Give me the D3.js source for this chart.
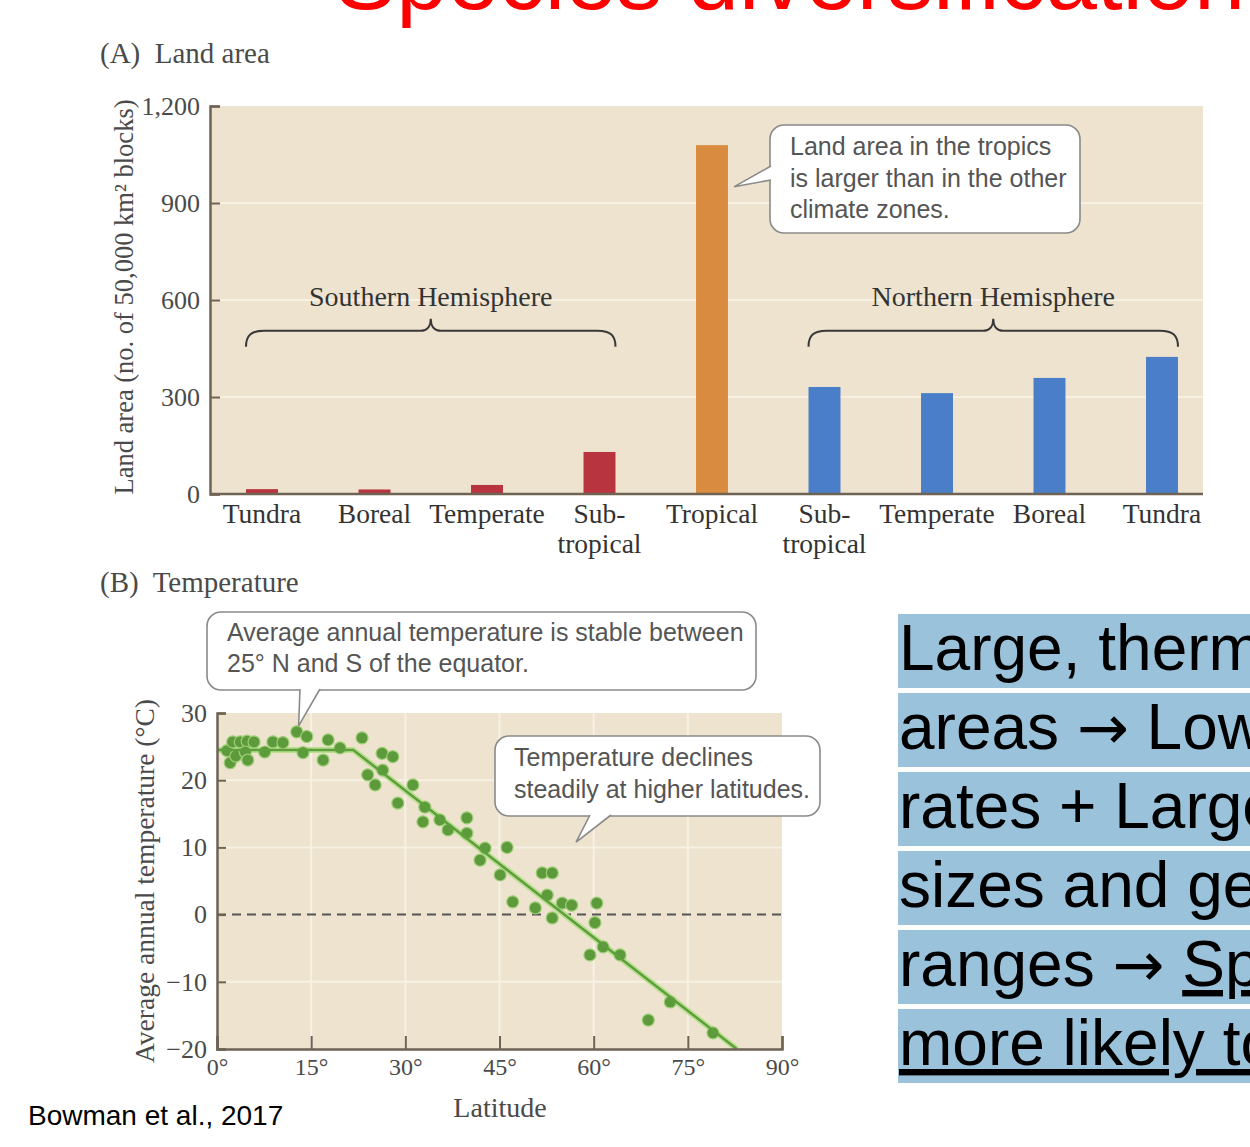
<!DOCTYPE html>
<html><head><meta charset="utf-8">
<script src="https://cdn.jsdelivr.net/npm/d3@7"></script>
<style>body{margin:0;background:#fff;overflow:hidden} svg{display:block}</style>
</head><body><svg id="c" width="1250" height="1147"></svg>
<script>
// ---------- Panel A data ----------
const zoneIds = ["sTundra","sBoreal","sTemperate","sSub","tropical","nSub","nTemperate","nBoreal","nTundra"];
const zoneLabels = [["Tundra"],["Boreal"],["Temperate"],["Sub-","tropical"],["Tropical"],["Sub-","tropical"],["Temperate"],["Boreal"],["Tundra"]];
const landArea = [15, 14, 28, 130, 1079, 331, 312, 359, 424];
const hemisphere = ["south","south","south","south","tropic","north","north","north","north"];
const landTicks = [0, 300, 600, 900, 1200];

// ---------- Panel B data ----------
const latitude = [1.6,2.1,2.5,3.0,3.7,4.8,5.9,4.5,4.9,7.6,8.9,10.5,12.7,14.3,13.7,16.9,17.7,19.6,23.1,24.0,25.2,26.3,26.4,28.0,28.8,31.2,33.1,32.8,35.5,36.8,39.8,39.8,41.9,42.7,45.1,46.2,47.1,51.8,53.4,52.6,50.7,53.4,55.0,56.5,60.5,60.2,61.5,59.4,64.2,72.2,68.7,79.0];
const temperature = [24.4,22.6,25.7,23.6,25.7,25.8,25.7,24.2,23.0,24.2,25.7,25.6,27.2,26.5,24.1,23.0,26.0,24.8,26.3,20.8,19.3,24.0,21.5,23.5,16.6,19.3,16.0,13.8,14.1,12.6,14.4,12.1,8.1,9.9,5.9,10.0,1.9,6.2,6.2,2.9,1.0,-0.5,1.7,1.4,1.7,-1.2,-4.8,-6.0,-6.0,-13.0,-15.7,-17.6];
const trendLat = [0, 21.7, 82.8];
const trendTemp = [24.5, 24.5, -20];
const latTicks = [0, 15, 30, 45, 60, 75, 90];
const tempTicks = [-20, -10, 0, 10, 20, 30];

// ---------- Slide text ----------
const slideTitle = "Species diversification";
const citation = "Bowman et al., 2017";
const bulletLines = [
  [{t:"Large, thermally stable"}],
  [{t:"areas "},{t:"\u2192",a:true},{t:" Lower extinction"}],
  [{t:"rates + Larger population"}],
  [{t:"sizes and geographic"}],
  [{t:"ranges "},{t:"\u2192",a:true},{t:" "},{t:"Speciation",u:true}],
  [{t:"more likely to occur",u:true}]
];

const svg = d3.select("#c");
const SERIF = "'Liberation Serif', 'Times New Roman', serif";
const SANS = "'Liberation Sans', Arial, sans-serif";
const AXIS = "#6f6354";
const TXT = "#4a4a4a";
const BEIGE = "#ede3cf";

// Title
svg.append("text").attr("x", 335).attr("y", 9).attr("font-family", SANS)
  .attr("font-size", 92).attr("fill", "#ff0000").text(slideTitle);

// ================= Panel A =================
const xA = d3.scaleBand().domain(zoneIds).range([205.75, 1218.25]).paddingInner(0.716).paddingOuter(0.358);
const yA = d3.scaleLinear().domain([0, 1200]).range([494, 106]);
const plotA = {x0: 210, x1: 1203};
const colorA = {south: "#b8343f", tropic: "#d98c40", north: "#4a7ec8"};

svg.append("text").attr("x", 100).attr("y", 63).attr("font-family", SERIF).attr("font-size", 29)
  .attr("fill", TXT).attr("xml:space","preserve").text("(A)  Land area");

svg.append("rect").attr("x", plotA.x0).attr("y", yA(1200)).attr("width", plotA.x1 - plotA.x0)
  .attr("height", yA(0) - yA(1200)).attr("fill", BEIGE);

svg.append("g").selectAll("line").data([300, 600, 900]).join("line")
  .attr("x1", plotA.x0).attr("x2", plotA.x1).attr("y1", d => yA(d)).attr("y2", d => yA(d))
  .attr("stroke", "#f7f1e4").attr("stroke-width", 2);

svg.append("g").selectAll("rect").data(zoneIds).join("rect")
  .attr("x", d => xA(d)).attr("width", xA.bandwidth())
  .attr("y", (d, i) => yA(landArea[i])).attr("height", (d, i) => yA(0) - yA(landArea[i]))
  .attr("fill", (d, i) => colorA[hemisphere[i]]);

const yAxisA = svg.append("g").attr("transform", `translate(${plotA.x0},0)`)
  .call(d3.axisLeft(yA).tickValues(landTicks).tickFormat(d3.format(",")).tickSize(-10).tickPadding(10));
yAxisA.select(".domain").attr("stroke", AXIS).attr("stroke-width", 2.5);
yAxisA.selectAll(".tick line").attr("stroke", AXIS).attr("stroke-width", 2);
yAxisA.selectAll("text").attr("font-family", SERIF).attr("font-size", 26).attr("fill", TXT);

const xAxisA = svg.append("g").attr("transform", `translate(0,${yA(0)})`)
  .call(d3.axisBottom(xA).tickSize(0).tickPadding(0).tickFormat(""));
xAxisA.select(".domain").attr("d", `M${plotA.x0},0H${plotA.x1}`).attr("stroke", AXIS).attr("stroke-width", 2.5);
xAxisA.selectAll(".tick text").each(function(d, i) {
  const t = d3.select(this).attr("dy", null).attr("y", 29).attr("font-family", SERIF)
    .attr("font-size", 27.5).attr("fill", "#333");
  zoneLabels[i].forEach((s, k) => t.append("tspan").attr("x", 0).attr("dy", k === 0 ? 0 : 30).text(s));
});

svg.append("text").attr("transform", `translate(133,297) rotate(-90)`).attr("text-anchor", "middle")
  .attr("font-family", SERIF).attr("font-size", 26.5).attr("fill", TXT)
  .text("Land area (no. of 50,000 km\u00b2 blocks)");

// Braces
function brace(x0, x1, y, h, peak) {
  const xm = (x0 + x1) / 2;
  return `M${x0},${y+h} C${x0},${y+5} ${x0+5},${y} ${x0+18},${y} L${xm-10},${y} C${xm-4},${y} ${xm},${y-4} ${xm},${y-peak} C${xm},${y-4} ${xm+4},${y} ${xm+10},${y} L${x1-18},${y} C${x1-5},${y} ${x1},${y+5} ${x1},${y+h}`;
}
const braceY = yA(505);
[["sTundra","sSub","Southern Hemisphere"],["nSub","nTundra","Northern Hemisphere"]].forEach(([a, b, lab]) => {
  const x0 = xA(a), x1 = xA(b) + xA.bandwidth();
  svg.append("path").attr("d", brace(x0, x1, braceY, 16, 12)).attr("fill", "none")
    .attr("stroke", "#3a3a3a").attr("stroke-width", 2);
  svg.append("text").attr("x", (x0 + x1) / 2).attr("y", braceY - 25).attr("text-anchor", "middle")
    .attr("font-family", SERIF).attr("font-size", 28).attr("fill", "#333").text(lab);
});

// Callouts
function callout(box, wedge, lines, x, y0, dy) {
  const g = svg.append("g");
  g.append("rect").attr("x", box[0]).attr("y", box[1]).attr("width", box[2]).attr("height", box[3])
    .attr("rx", 14).attr("fill", "#fff").attr("stroke", "#8a8a8a").attr("stroke-width", 1.6);
  g.append("polygon").attr("points", wedge.map(p => p.join(",")).join(" ")).attr("fill", "#fff");
  g.append("polyline").attr("points", wedge.map(p => p.join(",")).join(" ")).attr("fill", "none")
    .attr("stroke", "#8a8a8a").attr("stroke-width", 1.6);
  lines.forEach((s, i) => g.append("text").attr("x", x).attr("y", y0 + i * dy)
    .attr("font-family", SANS).attr("font-size", 25).attr("fill", "#555").text(s));
}
const tipA = [xA("tropical") + xA.bandwidth() + 6, yA(950)];
callout([770, 125, 310, 108], [[771, 166], tipA, [771, 180]],
  ["Land area in the tropics", "is larger than in the other", "climate zones."], 790, 155, 31.5);

// ================= Panel B =================
const xB = d3.scaleLinear().domain([0, 90]).range([217, 782]);
const yB = d3.scaleLinear().domain([-20, 30]).range([1049, 713]);

svg.append("text").attr("x", 100).attr("y", 592).attr("font-family", SERIF).attr("font-size", 29)
  .attr("fill", TXT).attr("xml:space","preserve").text("(B)  Temperature");

svg.append("rect").attr("x", xB(0)).attr("y", yB(30)).attr("width", xB(90) - xB(0))
  .attr("height", yB(-20) - yB(30)).attr("fill", BEIGE);
svg.append("g").selectAll("line").data([15, 30, 45, 60, 75]).join("line")
  .attr("x1", d => xB(d)).attr("x2", d => xB(d)).attr("y1", yB(30)).attr("y2", yB(-20))
  .attr("stroke", "#f7f1e4").attr("stroke-width", 2);
svg.append("g").selectAll("line").data([20, 10, -10]).join("line")
  .attr("x1", xB(0)).attr("x2", xB(90)).attr("y1", d => yB(d)).attr("y2", d => yB(d))
  .attr("stroke", "#f7f1e4").attr("stroke-width", 2);
svg.append("line").attr("x1", xB(0)).attr("x2", xB(90)).attr("y1", yB(0)).attr("y2", yB(0))
  .attr("stroke", "#555").attr("stroke-width", 2).attr("stroke-dasharray", "9,6");

const trend = trendLat.map((d, i) => [d, trendTemp[i]]);
const lineB = d3.line().x(d => xB(d[0])).y(d => yB(d[1]));
svg.append("path").attr("d", lineB(trend)).attr("fill", "none").attr("stroke", "#b9e08f").attr("stroke-width", 6);
svg.append("g").selectAll("circle").data(latitude).join("circle")
  .attr("cx", d => xB(d)).attr("cy", (d, i) => yB(temperature[i])).attr("r", 6)
  .attr("fill", "#5c9a3b").attr("stroke", "#9ccd74").attr("stroke-width", 1.2);
svg.append("path").attr("d", lineB(trend)).attr("fill", "none").attr("stroke", "#5e9e3c").attr("stroke-width", 2.5);

const yAxisB = svg.append("g").attr("transform", `translate(${xB(0)},0)`)
  .call(d3.axisLeft(yB).tickValues(tempTicks).tickFormat(d => d < 0 ? "\u2212" + Math.abs(d) : d).tickSize(-9).tickPadding(10));
yAxisB.select(".domain").attr("stroke", AXIS).attr("stroke-width", 2.5);
yAxisB.selectAll(".tick line").attr("stroke", AXIS).attr("stroke-width", 2);
yAxisB.selectAll("text").attr("font-family", SERIF).attr("font-size", 26).attr("fill", TXT);

const xAxisB = svg.append("g").attr("transform", `translate(0,${yB(-20)})`)
  .call(d3.axisBottom(xB).tickValues(latTicks).tickFormat(d => d + "\u00b0").tickSize(-13).tickPadding(9));
xAxisB.select(".domain").attr("stroke", AXIS).attr("stroke-width", 2.5);
xAxisB.selectAll(".tick line").attr("stroke", AXIS).attr("stroke-width", 2);
xAxisB.selectAll("text").attr("font-family", SERIF).attr("font-size", 24).attr("fill", TXT);

svg.append("text").attr("x", 500).attr("y", 1117).attr("text-anchor", "middle")
  .attr("font-family", SERIF).attr("font-size", 28).attr("fill", TXT).text("Latitude");
svg.append("text").attr("transform", `translate(154,881) rotate(-90)`).attr("text-anchor", "middle")
  .attr("font-family", SERIF).attr("font-size", 27.5).attr("fill", TXT).text("Average annual temperature (\u00b0C)");

callout([207, 612, 549, 78], [[300, 689], [xB(13), yB(27.2) - 6], [320, 689]],
  ["Average annual temperature is stable between", "25\u00b0 N and S of the equator."], 227, 641, 31);
callout([495, 736, 325, 80], [[590, 815], [xB(57.2), yB(10.8)], [611, 815]],
  ["Temperature declines", "steadily at higher latitudes."], 514, 766, 32);

// ================= Slide text =================
svg.append("text").attr("x", 28).attr("y", 1125).attr("font-family", SANS).attr("font-size", 28)
  .attr("fill", "#000").text(citation);

bulletLines.forEach((parts, i) => {
  const top = 614 + i * 79;
  svg.append("rect").attr("x", 898).attr("y", top).attr("width", 360).attr("height", 74).attr("fill", "#9bc2db");
  const t = svg.append("text").attr("x", 899).attr("y", top + 56).attr("font-family", SANS)
    .attr("font-size", 64).attr("fill", "#000").attr("xml:space", "preserve");
  parts.forEach(p => {
    const s = t.append("tspan").text(p.t);
    if (p.u) s.attr("text-decoration", "underline");
    if (p.a) s.attr("font-family", "'DejaVu Sans', sans-serif").attr("font-size", 62);
  });
});
</script></body></html>
